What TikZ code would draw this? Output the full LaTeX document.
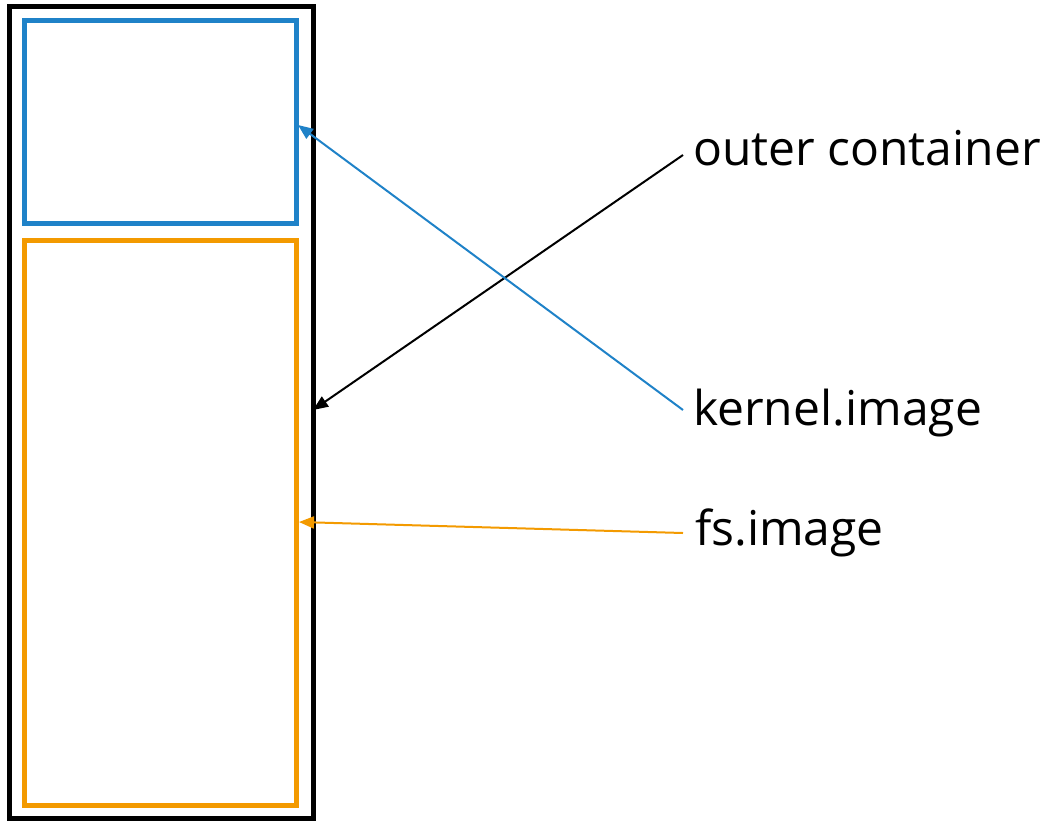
\documentclass[tikz,border=0pt]{standalone}
\usepackage{fontspec}
\setmainfont{Open Sans}
\usetikzlibrary{arrows.meta}
\definecolor{kblue}{HTML}{1F82C8}
\definecolor{forange}{HTML}{F39A00}
\begin{document}
\begin{tikzpicture}[x=1pt,y=-1pt,
  box/.style={line width=5pt},
  lbl/.style={anchor=west,inner sep=0pt,font=\fontsize{48}{56}\selectfont},
  ptr/.style={line width=2pt,-{Triangle[length=15pt,width=12pt]}}]
  \useasboundingbox (0,0) rectangle (1051,822);
  % outer container and the two images inside it
  \draw[box,black] (9,6.5) rectangle (313.5,818.5);
  \draw[box,kblue] (24.5,20.5) rectangle (296.5,223.5);
  \draw[box,forange] (24.5,240.5) rectangle (296.5,805.5);
  % labels
  \node[lbl] (outer) at (693,148) {outer container};
  \node[lbl] (kern) at (693,413) {kernel.image};
  \node[lbl] (fs) at (695,533) {fs.image};
  % target points on the box edges
  \coordinate (outerpt) at (313,410);
  \coordinate (kernpt) at (298,125);
  \coordinate (fspt) at (299,522);
  \draw[ptr,black] (683,155) -- (outerpt);
  \draw[ptr,kblue] (683,410) -- (kernpt);
  \draw[ptr,forange] (683,533) -- (fspt);
\end{tikzpicture}
\end{document}
